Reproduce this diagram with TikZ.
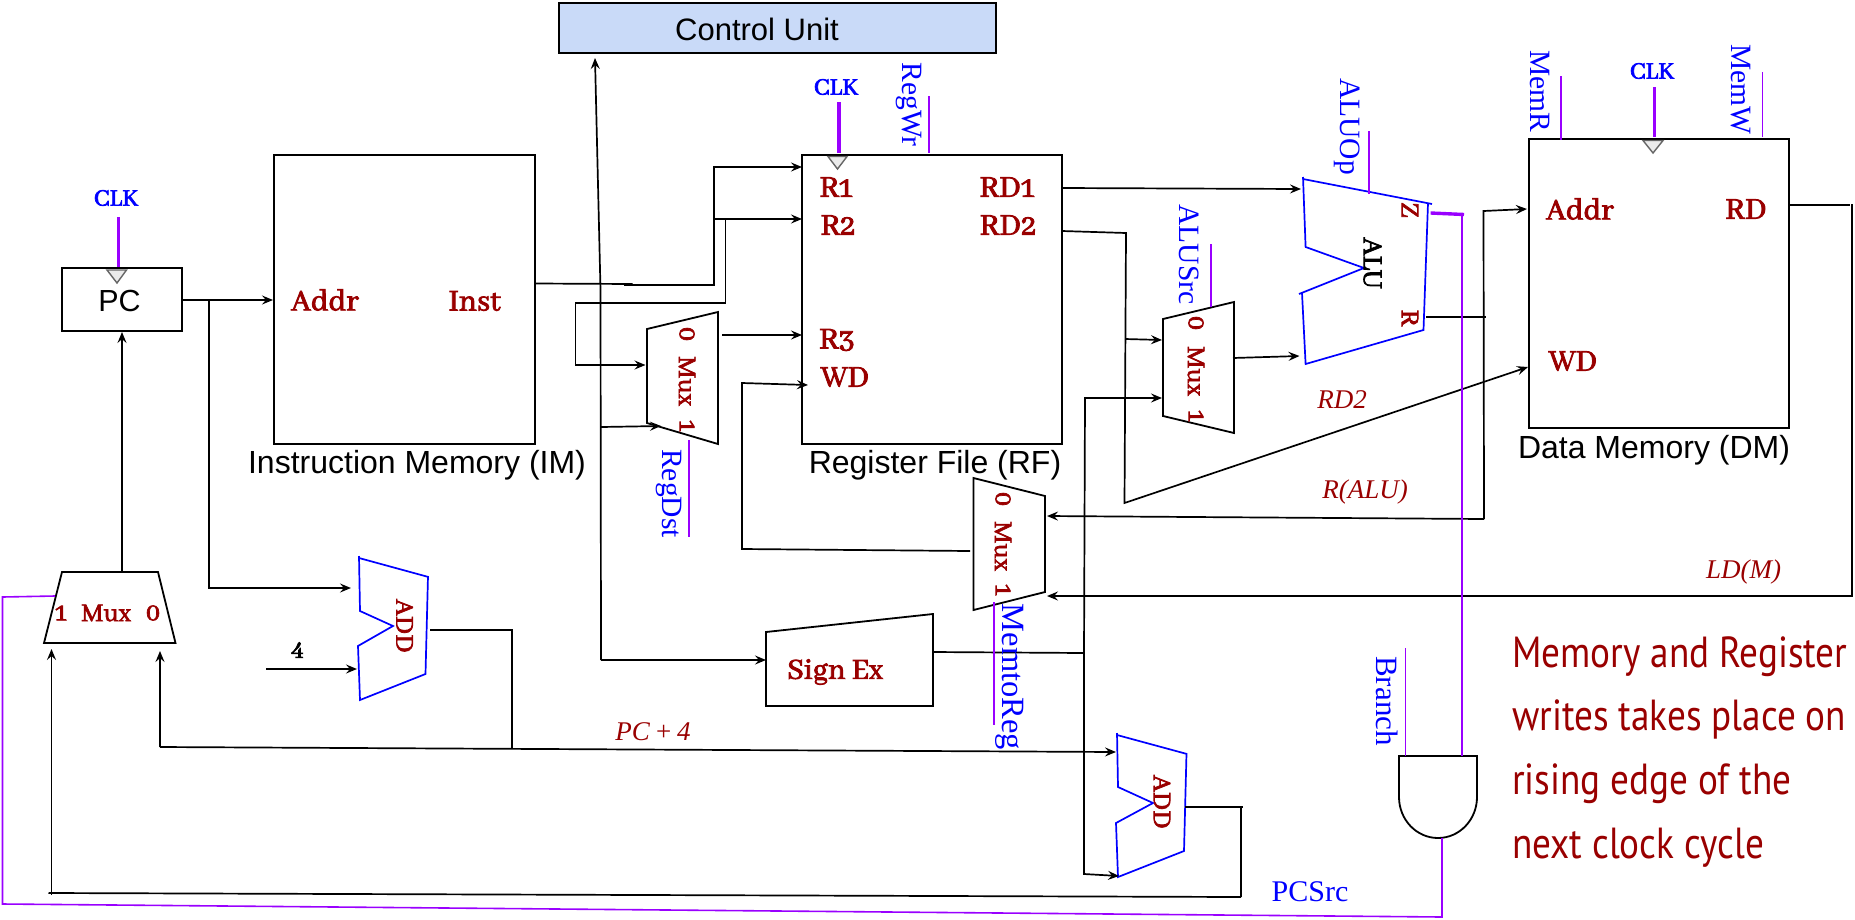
\documentclass[tikz,border=0pt]{standalone}
\usepackage{fontspec}
\usetikzlibrary{arrows.meta}
\setmainfont{Liberation Serif}
\newfontfamily\arialf{Liberation Sans}
\newfontfamily\labf{Abhaya Libre}[Numbers=OldStyle,FakeBold=2.6]
\newfontfamily\notef{PT Sans}[FakeStretch=0.855]
\definecolor{labred}{HTML}{990000}
\definecolor{sigpurple}{HTML}{9900FF}
\definecolor{unitblue}{HTML}{C9DAF8}
\tikzset{
  wire/.style={line width=1.7pt,black,line join=miter},
  arr/.style={wire,-{Stealth[length=11pt,width=9pt,inset=4pt]}},
  block/.style={draw=black,line width=2pt,fill=white,inner sep=0pt,outer sep=0pt,anchor=north west},
  poly/.style={draw=black,line width=1.8pt,line join=miter},
  bluepoly/.style={draw=blue,line width=1.7pt,line join=miter},
  ctrl/.style={sigpurple,line width=1.6pt},
  clkline/.style={sigpurple,line width=3.4pt},
  tri/.style={draw=black!60,fill=black!8,line width=1.4pt},
  sans/.style={inner sep=0pt,font=\arialf\fontsize{32}{34}\selectfont},
  lab/.style={inner sep=0pt,text=labred,font=\labf\fontsize{#1}{#1}\selectfont},
  lab/.default=33,
  rlab/.style={lab=#1,rotate=-90},
  rlab/.default=28,
  clk/.style={inner sep=0pt,text=blue,font=\labf\fontsize{26}{28}\selectfont},
  sig/.style={inner sep=0pt,text=blue,rotate=-90,font=\fontsize{#1}{#1}\selectfont},
  sig/.default=29.5,
  itl/.style={inner sep=0pt,text=labred,font=\itshape\fontsize{27}{29}\selectfont},
  notetext/.style={inner sep=0pt,text=labred,anchor=base west,font=\notef\fontsize{43.5}{46}\selectfont},
}
\begin{document}
\begin{tikzpicture}[x=1pt,y=-1pt]
\useasboundingbox (0,0) rectangle (1855,919);
% ---- blocks
\node[block,fill=unitblue,minimum width=437pt,minimum height=50.5pt] (cu) at (559,2.5) {};
\node[sans,font=\arialf\fontsize{31}{34}\selectfont] (cutext) at (757,29) {Control Unit};
\node[block,minimum width=120pt,minimum height=63pt] (pc) at (62,268) {};
\node[sans,font=\arialf\fontsize{30.5}{34}\selectfont] (pctext) at (119.5,301) {PC};
\node[block,minimum width=261pt,minimum height=289pt] (im) at (274,155) {};
\node[block,minimum width=260pt,minimum height=289pt] (rf) at (802,155) {};
\node[block,minimum width=260pt,minimum height=289pt] (dm) at (1529,139) {};
\node[sans] (imcap) at (417,465) {Instruction Memory (IM)};
\node[sans] (rfcap) at (935,465) {Register File (RF)};
\node[sans] (dmcap) at (1654,450.5) {Data Memory (DM)};
% ---- clock triangles
\draw[tri] (107,270) coordinate (tpa) -- (126.5,270) -- (117,283) -- cycle;
\draw[tri] (828,156.5) coordinate (tra) -- (847,156.5) -- (837.5,169) -- cycle;
\draw[tri] (1643,140.5) coordinate (tda) -- (1663,140.5) -- (1653,153) -- cycle;
% ---- muxes and other trapezia
\draw[poly] (647,329) coordinate (ma) -- (718,312) -- (718,444) -- (647,423) -- cycle;
\draw[poly] (1163,319) coordinate (mb) -- (1234,302) -- (1234,433) -- (1163,416) -- cycle;
\draw[poly] (973.5,478) coordinate (mc) -- (1045,496) -- (1045,592) -- (973.5,610) -- cycle;
\draw[poly] (62,572) coordinate (md) -- (158,572) -- (175.5,643) -- (44,643) -- cycle;
\draw[poly] (766,632) coordinate (se) -- (933,614) -- (933,706) -- (766,706) -- cycle;
% ---- adders and ALU
\draw[bluepoly] (359,558) -- (428.5,577) (428,576) -- (425.5,674) -- (360,700) -- (358,646) -- (393,626) -- (360,611) -- (359,556);
\draw[bluepoly] (1117,735) -- (1187,754) (1186.5,753) -- (1184,851) -- (1118,877) -- (1116,823) -- (1153,803) -- (1118,787) -- (1117,733);
\draw[bluepoly] (1303,179) -- (1432,204) (1428,203) -- (1423.5,330) -- (1305.6,364) -- (1302,293) (1299,294) -- (1364,268) -- (1305.6,247) -- (1303,177);
% ---- AND gate
\draw[poly] (1399,756) coordinate (anda) -- (1477,756) -- (1477,797) arc[start angle=0,end angle=-180,x radius=39pt,y radius=41pt] -- cycle;
% ---- junctions
\coordinate (pcout) at (182,300);
\coordinate (imaddr) at (273,300);
\coordinate (pcj) at (209,300);
\coordinate (add1in) at (351,588);
\coordinate (add1j) at (209,588);
\coordinate (fourin) at (266,669);
\coordinate (fourout) at (357,669);
\coordinate (add1o) at (430,630);
\coordinate (add1oa) at (512,630);
\coordinate (add1ob) at (512,749);
\coordinate (pfa) at (160,651);
\coordinate (pfb) at (160,747);
\coordinate (add2a) at (1116,752);
\coordinate (muxpc) at (122,572);
\coordinate (pcin) at (122,332);
\coordinate (lpup) at (51.5,649);
\coordinate (lpa) at (51.5,895);
\coordinate (lpb) at (48.5,893);
\coordinate (lpc) at (1241,897);
\coordinate (lpd) at (1241,807);
\coordinate (add2o) at (1185,807);
\coordinate (lpe) at (1243,807);
\coordinate (cuin) at (595,58);
\coordinate (ctla) at (600.5,290);
\coordinate (ctlb) at (601,660);
\coordinate (sein) at (766,660);
\coordinate (ctlm) at (601,427);
\coordinate (mux1b) at (661,426);
\coordinate (inst) at (535,283.5);
\coordinate (insta) at (632.6,284);
\coordinate (instb) at (623.5,285);
\coordinate (instc) at (713.8,285);
\coordinate (instd) at (713.8,167);
\coordinate (r1) at (802,167);
\coordinate (re) at (713,219);
\coordinate (r2) at (802,219);
\coordinate (rf1) at (725.5,219);
\coordinate (rf2) at (725.5,303);
\coordinate (rf3) at (575.5,303);
\coordinate (rf4) at (575.5,365);
\coordinate (mux1a) at (645.5,365);
\coordinate (mux1o) at (722,335);
\coordinate (r3) at (802,335);
\coordinate (wda) at (742,549);
\coordinate (wdb) at (742,383);
\coordinate (wd) at (808,385);
\coordinate (muxco) at (970,551);
\coordinate (rd1) at (1062,188);
\coordinate (alua) at (1301,189);
\coordinate (rd2) at (1062,231);
\coordinate (rd2a) at (1126,233);
\coordinate (rd2b) at (1124.5,503);
\coordinate (dmwd) at (1528,367);
\coordinate (rd2c) at (1125,339);
\coordinate (mbin) at (1162,340);
\coordinate (mbo) at (1233,358);
\coordinate (alub) at (1299.5,356);
\coordinate (seo) at (933,652);
\coordinate (sea) at (1084,653);
\coordinate (seb) at (1085,398);
\coordinate (mbin2) at (1162,398);
\coordinate (sec) at (1084,874);
\coordinate (add2b) at (1119,876);
\coordinate (alur) at (1426,317);
\coordinate (alura) at (1486,317);
\coordinate (va) at (1483.5,211);
\coordinate (vb) at (1484,519);
\coordinate (dmaddr) at (1527,209);
\coordinate (mcin) at (1047,516);
\coordinate (dmrd) at (1789,205);
\coordinate (dmrda) at (1849.5,205);
\coordinate (vc) at (1852,204);
\coordinate (vd) at (1852,596);
\coordinate (mcin2) at (1047,596);
% ---- data wires
\draw[arr] (pcout) -- (imaddr);
\draw[arr] (pcj) -- (add1j) -- (add1in);
\draw[arr] (fourin) -- (fourout);
\draw[wire] (add1o) -- (add1oa) -- (add1ob);
\draw[arr] (pfb) -- (add2a);
\draw[arr] (pfb) -- (pfa);
\draw[arr] (muxpc) -- (pcin);
\draw[arr] (lpa) -- (lpup);
\draw[wire] (lpb) -- (lpc);
\draw[wire] (lpc) -- (lpd) -- (add2o);
\draw[wire] (lpd) -- (lpe);
\draw[arr] (ctlb) -- (ctla) -- (cuin);
\draw[arr] (ctlb) -- (sein);
\draw[arr] (ctlm) -- (mux1b);
\draw[wire] (inst) -- (insta);
\draw[arr] (instb) -- (instc) -- (instd) -- (r1);
\draw[arr] (re) -- (r2);
\draw[arr] (rf1) -- (rf2) -- (rf3) -- (rf4) -- (mux1a);
\draw[arr] (mux1o) -- (r3);
\draw[arr] (muxco) -- (wda) -- (wdb) -- (wd);
\draw[arr] (rd1) -- (alua);
\draw[arr] (rd2) -- (rd2a) -- (rd2b) -- (dmwd);
\draw[arr] (rd2c) -- (mbin);
\draw[arr] (mbo) -- (alub);
\draw[wire] (seo) -- (sea);
\draw[arr] (sea) -- (seb) -- (mbin2);
\draw[arr] (sea) -- (sec) -- (add2b);
\draw[wire] (alur) -- (alura);
\draw[arr] (vb) -- (va) -- (dmaddr);
\draw[arr] (vb) -- (mcin);
\draw[wire] (dmrd) -- (dmrda);
\draw[arr] (vc) -- (vd) -- (mcin2);
% ---- control lines
\coordinate (cka) at (118.5,217); \coordinate (ckb) at (118.5,267);
\coordinate (ckc) at (839,102);   \coordinate (ckd) at (839,153);
\coordinate (cke) at (1654.5,87); \coordinate (ckf) at (1654.5,137);
\draw[clkline] (cka) -- (ckb);
\draw[clkline] (ckc) -- (ckd);
\draw[clkline] (cke) -- (ckf);
\coordinate (za) at (1430.6,213); \coordinate (zb) at (1464,214.5);
\coordinate (zc) at (1462,214);   \coordinate (zd) at (1462,756);
\draw[sigpurple,line width=3.4pt] (za) -- (zb);
\draw[ctrl] (zc) -- (zd);
\coordinate (pa) at (55,596);  \coordinate (pb) at (2.5,597);
\coordinate (pd) at (2.5,904); \coordinate (pe) at (1442,917);
\coordinate (pf) at (1442,838);
\draw[ctrl,line join=miter] (pa) -- (pb) -- (pd) -- (pe) -- (pf);
\coordinate (bra) at (1405.5,648); \coordinate (brb) at (1405.5,756);
\draw[ctrl] (bra) -- (brb);
\coordinate (s1a) at (929,96);    \coordinate (s1b) at (929,153);
\draw[ctrl] (s1a) -- (s1b);
\coordinate (s2a) at (689,440);   \coordinate (s2b) at (689,537);
\draw[ctrl] (s2a) -- (s2b);
\coordinate (s3a) at (1211,244);  \coordinate (s3b) at (1211,307);
\draw[ctrl] (s3a) -- (s3b);
\coordinate (s4a) at (1369,131);  \coordinate (s4b) at (1369,194);
\draw[ctrl] (s4a) -- (s4b);
\coordinate (s5a) at (1561,76);   \coordinate (s5b) at (1561,140);
\draw[ctrl] (s5a) -- (s5b);
\coordinate (s6a) at (1762.6,72); \coordinate (s6b) at (1762.6,137);
\draw[ctrl] (s6a) -- (s6b);
\coordinate (s7a) at (994,602);   \coordinate (s7b) at (994,725);
\draw[ctrl] (s7a) -- (s7b);
% ---- port labels
\node[lab] (imA) at (325,300) {Addr};
\node[lab] (imI) at (474.5,301) {Inst};
\node[lab] (rR1) at (836,187) {R1};
\node[lab] (rR2) at (838,225) {R2};
\node[lab] (rR3) at (837,340) {R3};
\node[lab] (rWD) at (845,377) {WD};
\node[lab] (rD1) at (1007,187) {RD1};
\node[lab] (rD2) at (1008,225) {RD2};
\node[lab] (dA) at (1580,209) {Addr};
\node[lab] (dR) at (1746,209) {RD};
\node[lab] (dW) at (1573,361) {WD};
\node[lab=32] (sgn) at (835,672) {Sign Ex};
% ---- mux labels
\node[rlab] (m10) at (687,334) {0};
\node[rlab] (m1m) at (687,381) {Mux};
\node[rlab] (m11) at (687,426) {1};
\node[rlab] (m20) at (1196,323) {0};
\node[rlab] (m2m) at (1196,371) {Mux};
\node[rlab] (m21) at (1196,416) {1};
\node[rlab] (m30) at (1003,499) {0};
\node[rlab] (m3m) at (1003,546) {Mux};
\node[rlab] (m31) at (1003,590) {1};
\node[lab=28] (m41) at (61,613) {1};
\node[lab=28] (m4m) at (106,613) {Mux};
\node[lab=28] (m40) at (153,613) {0};
\node[rlab=28] (a1t) at (404.6,626) {ADD};
\node[rlab=28] (a2t) at (1162,802) {ADD};
\node[rlab=30,text=black] (alut) at (1372.5,263) {ALU};
\node[rlab=28] (aluz) at (1410,210) {Z};
\node[rlab=28] (alurt) at (1410,318) {R};
\node[lab=26,text=black] (four) at (297.5,650) {4};
% ---- signal labels
\node[clk] (c1) at (116,198) {CLK};
\node[clk] (c2) at (836,87) {CLK};
\node[clk] (c3) at (1652,71) {CLK};
\node[sig] (regwr) at (909,104.5) {RegWr};
\node[sig] (regdst) at (669,493.5) {RegDst};
\node[sig] (alusrc) at (1189,254.5) {ALUSrc};
\node[sig] (aluop) at (1347,126.5) {ALUOp};
\node[sig] (memr) at (1540,91) {MemR};
\node[sig] (memw) at (1741,89.5) {MemW};
\node[sig=32.5] (m2r) at (1010,677) {MemtoReg};
\node[sig=31] (branch) at (1387,701) {Branch};
\node[inner sep=0pt,text=blue,font=\fontsize{30}{32}\selectfont] (pcsrc) at (1310,892) {PCSrc};
% ---- italic labels
\node[itl] (lpc4) at (653,732) {PC\,+\,4};
\node[itl] (lrd2) at (1342,400) {RD2};
\node[itl] (lralu) at (1365,492) {R(ALU)};
\node[itl] (lld) at (1743.5,572) {LD(M)};
% ---- note
\node[notetext] (n1) at (1512,667) {Memory and Register};
\node[notetext] (n2) at (1512,730) {writes takes place on};
\node[notetext] (n3) at (1512,794) {rising edge of the};
\node[notetext] (n4) at (1512,858) {next clock cycle};
\end{tikzpicture}
\end{document}
